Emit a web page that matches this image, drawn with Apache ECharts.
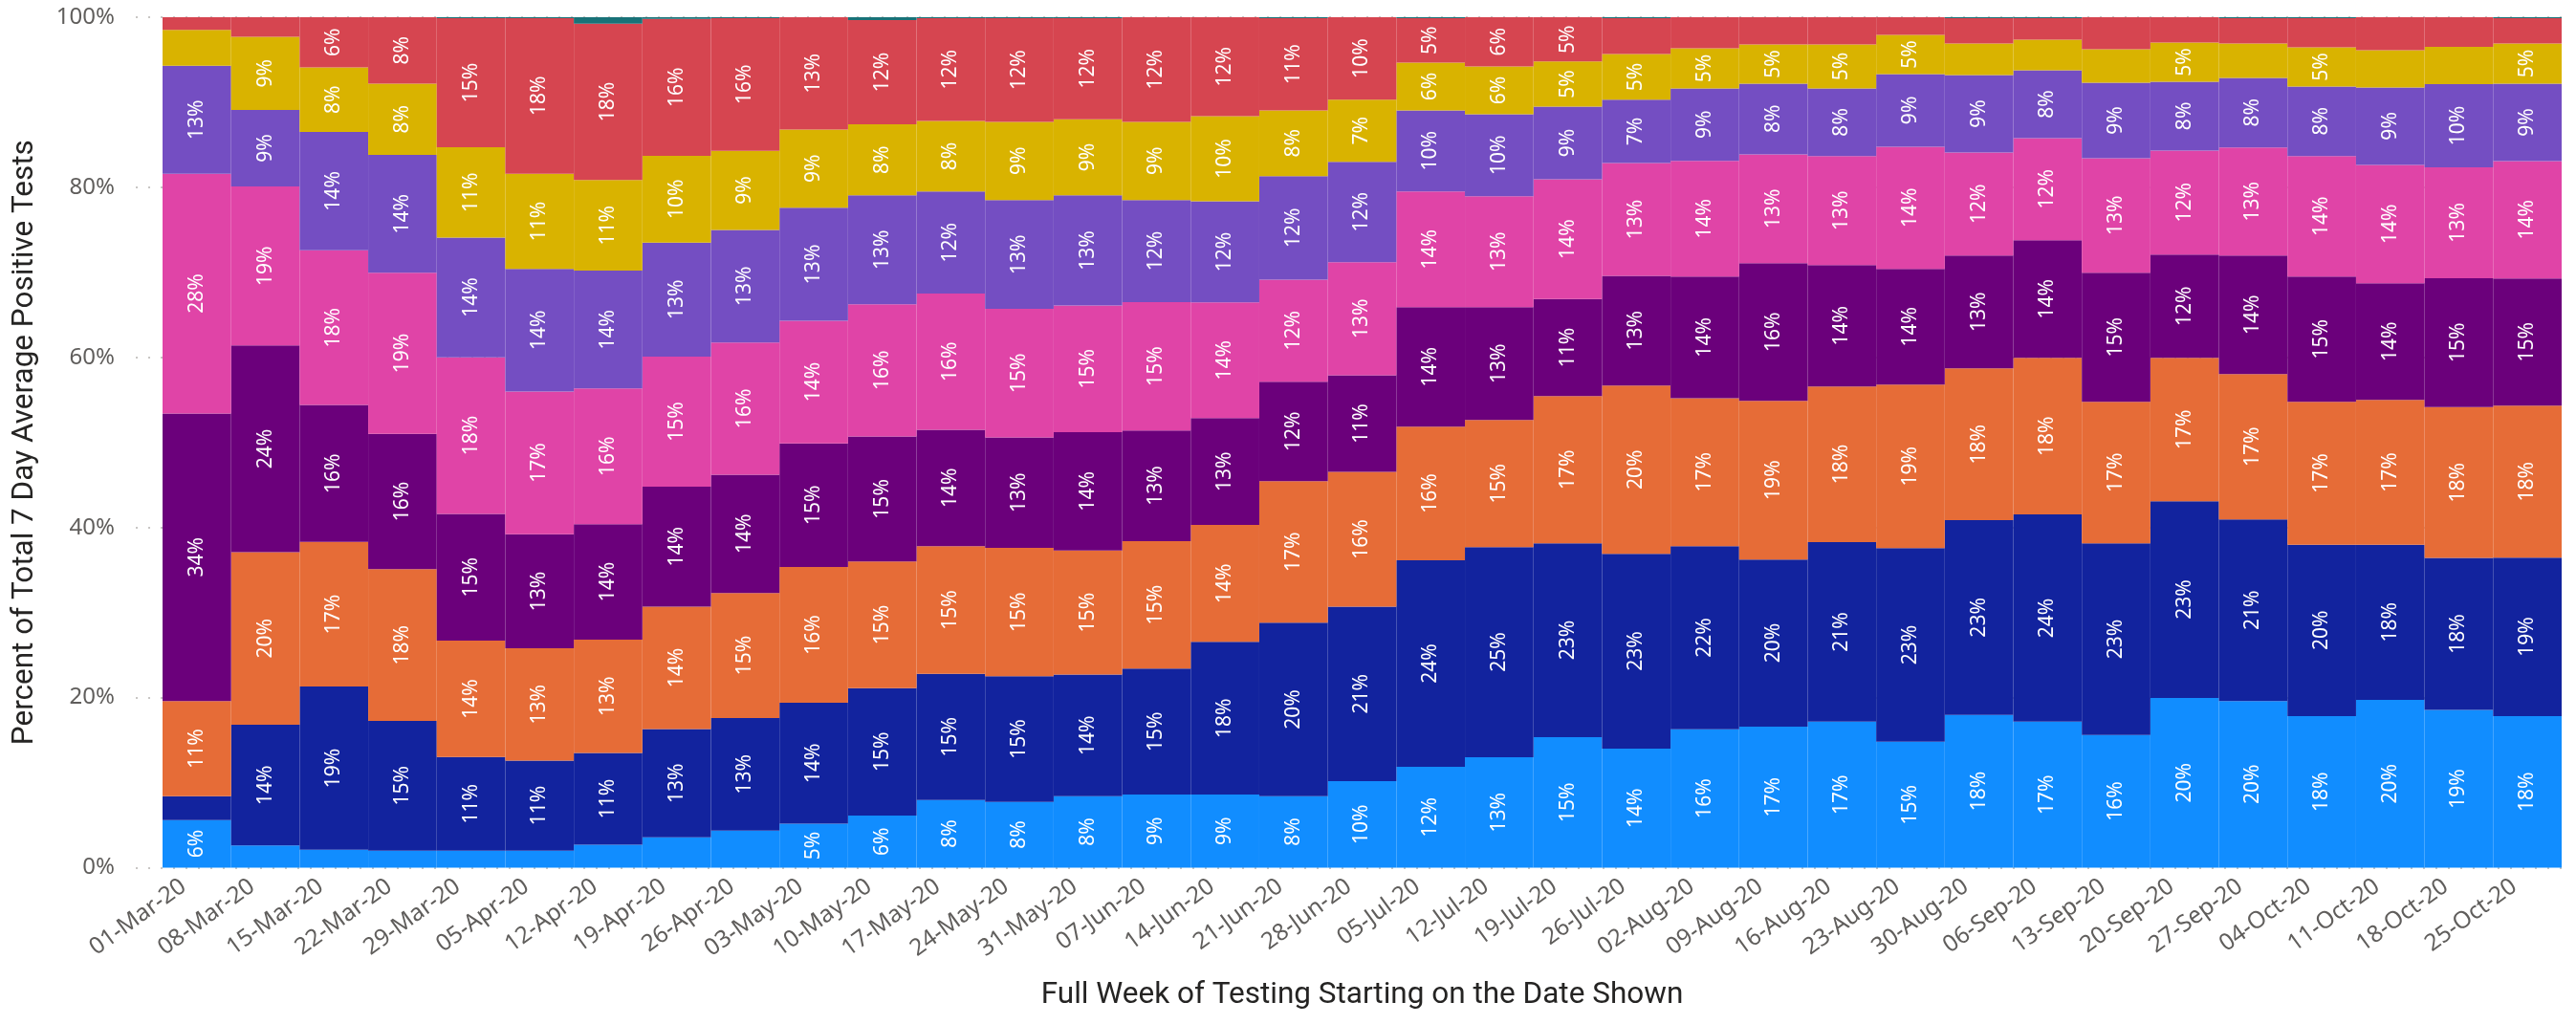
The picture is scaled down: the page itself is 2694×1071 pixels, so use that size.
<!DOCTYPE html>
<html>
<head>
<meta charset="utf-8">
<script src="https://cdn.jsdelivr.net/npm/echarts@6/dist/echarts.min.js"></script>
<style>
html,body{margin:0;padding:0;background:#fff;}
#chart{width:2694px;height:1071px;}
</style>
</head>
<body>
<div id="chart"></div>
<script>
const categories = ['01-Mar-20','08-Mar-20','15-Mar-20','22-Mar-20','29-Mar-20','05-Apr-20','12-Apr-20','19-Apr-20','26-Apr-20','03-May-20','10-May-20','17-May-20','24-May-20','31-May-20','07-Jun-20','14-Jun-20','21-Jun-20','28-Jun-20','05-Jul-20','12-Jul-20','19-Jul-20','26-Jul-20','02-Aug-20','09-Aug-20','16-Aug-20','23-Aug-20','30-Aug-20','06-Sep-20','13-Sep-20','20-Sep-20','27-Sep-20','04-Oct-20','11-Oct-20','18-Oct-20','25-Oct-20'];

const group1 = [5.6,2.6,2.1,2.0,2.0,2.0,2.7,3.56,4.36,5.16,6.14,7.96,7.74,8.4,8.6,8.6,8.4,10.18,11.87,12.98,15.34,14.0,16.27,16.58,17.16,14.8,17.96,17.16,15.6,19.96,19.6,17.83,19.74,18.55,17.83];
const group2 = [2.8,14.2,19.2,15.25,11.0,10.6,10.8,12.74,13.24,14.24,14.96,14.84,14.76,14.3,14.8,17.95,20.4,20.52,24.28,24.72,22.81,22.9,21.53,19.66,21.12,22.77,22.9,24.37,22.55,23.13,21.35,20.14,18.23,17.87,18.62];
const group3 = [11.2,20.3,17.0,17.85,13.7,13.2,13.3,14.4,14.7,15.95,14.9,15.0,15.1,14.6,15.0,13.75,16.65,15.85,15.7,14.94,17.3,19.79,17.4,18.66,18.3,19.23,17.84,18.42,16.63,16.86,17.09,16.81,17.03,17.73,17.88];
const group4 = [33.8,24.3,16.1,15.9,14.9,13.4,13.6,14.1,13.9,14.55,14.7,13.7,13.0,13.9,13.0,12.56,11.7,11.35,14.05,13.26,11.4,12.9,14.3,16.17,14.27,13.6,13.27,13.82,15.17,12.13,13.93,14.72,13.71,15.17,14.94];
const group5 = [28.2,18.7,18.2,18.95,18.4,16.8,15.95,15.3,15.55,14.4,15.55,16.0,15.1,14.9,15.1,13.6,12.0,13.3,13.6,13.04,14.1,13.27,13.6,12.81,12.81,14.38,12.13,12.02,13.48,12.25,12.7,14.16,13.93,13.04,13.82];
const group6 = [12.7,9.0,13.9,13.85,14.1,14.4,13.85,13.4,13.25,13.3,12.8,12.0,12.8,12.95,12.0,11.9,12.15,11.8,9.55,9.66,8.54,7.43,8.53,8.32,7.97,8.54,9.1,7.98,8.87,8.09,8.2,8.2,9.11,9.77,9.1];
const group7 = [4.2,8.6,7.6,8.4,10.6,11.2,10.65,10.2,9.3,9.2,8.35,8.3,9.2,8.95,9.2,10.0,7.75,7.3,5.6,5.6,5.3,5.38,4.72,4.6,5.17,4.61,3.7,3.59,3.94,4.61,4.03,4.6,4.38,4.38,4.71];
const group8 = [1.5,2.3,5.9,7.8,15.2,18.3,18.4,16.1,15.6,13.2,12.25,12.1,12.2,11.9,12.3,11.64,10.85,9.7,5.25,5.8,5.21,4.23,3.65,3.2,3.2,2.07,3.0,2.54,3.76,2.97,3.0,3.44,3.87,3.49,3.0];
const unknown = [0,0,0,0,0.1,0.1,0.75,0.2,0.1,0,0.35,0.1,0.1,0.1,0,0,0.1,0,0.1,0,0,0.1,0,0,0,0,0.1,0.1,0,0,0.1,0.1,0,0,0.1];

const yTicks = [0,20,40,60,80,100];

const seriesList = [
  {name:'Group 1', values:group1, color:'#118DFF'},
  {name:'Group 2', values:group2, color:'#12239E'},
  {name:'Group 3', values:group3, color:'#E66C37'},
  {name:'Group 4', values:group4, color:'#6B007B'},
  {name:'Group 5', values:group5, color:'#E044A7'},
  {name:'Group 6', values:group6, color:'#744EC2'},
  {name:'Group 7', values:group7, color:'#D9B300'},
  {name:'Group 8', values:group8, color:'#D64550'},
  {name:'Unknown', values:unknown, color:'#197278'}
];

const totals = categories.map((c,i)=>seriesList.reduce((s,ser)=>s+ser.values[i],0));

const labelFont = '"Segoe UI","Noto Sans","Open Sans",sans-serif';
const titleFont = 'Roboto,"DejaVu Sans",sans-serif';

const chart = echarts.init(document.getElementById('chart'), null, {renderer:'canvas'});

const series = seriesList.map(ser=>({
  name: ser.name,
  type: 'bar',
  stack: 'total',
  xAxisIndex: 1,
  yAxisIndex: 1,
  barCategoryGap: '0%',
  barGap: '0%',
  itemStyle: {color: ser.color},
  emphasis: {disabled: true},
  label: {
    show: true,
    position: 'inside',
    rotate: 90,
    color: '#FFFFFF',
    fontFamily: labelFont,
    fontSize: 21,
    formatter: p => p.value >= 4.5 ? Math.round(p.value) + '%' : ''
  },
  data: ser.values.map((v,i)=> v / totals[i] * 100)
}));

chart.setOption({
  animation: false,
  backgroundColor: '#fff',
  grid: [
    {left:142, right:8, top:18, bottom:163.5},
    {left:170, right:15, top:18, bottom:163.5}
  ],
  xAxis: [
    {gridIndex:0, type:'value', show:false, min:0, max:1},
    {
      gridIndex:1, type:'category', data:categories, boundaryGap:true,
      axisLine:{show:false}, axisTick:{show:false},
      axisLabel:{rotate:36, color:'#605E5C', fontFamily:labelFont, fontSize:24.5, margin:7, interval:0, padding:[0,17,0,0]},
      name:'Full Week of Testing Starting on the Date Shown',
      nameLocation:'middle', nameGap:118,
      nameTextStyle:{color:'#252423', fontFamily:titleFont, fontSize:31.5}
    }
  ],
  yAxis: [
    {
      gridIndex:0, type:'value', min:yTicks[0], max:yTicks[yTicks.length-1], interval:20,
      axisLine:{show:false}, axisTick:{show:false},
      axisLabel:{color:'#605E5C', fontFamily:labelFont, fontSize:24, margin:22, formatter:'{value}%'},
      splitLine:{show:true, lineStyle:{color:'#C8C6C4', width:2, type:[2,11]}},
      name:'Percent of Total 7 Day Average Positive Tests',
      nameLocation:'middle', nameGap:100, nameRotate:90,
      nameTextStyle:{color:'#252423', fontFamily:titleFont, fontSize:31.5}
    },
    {
      gridIndex:1, type:'value', min:0, max:100, show:false,
      splitLine:{show:false}
    }
  ],
  series: series
});
</script>
</body>
</html>
